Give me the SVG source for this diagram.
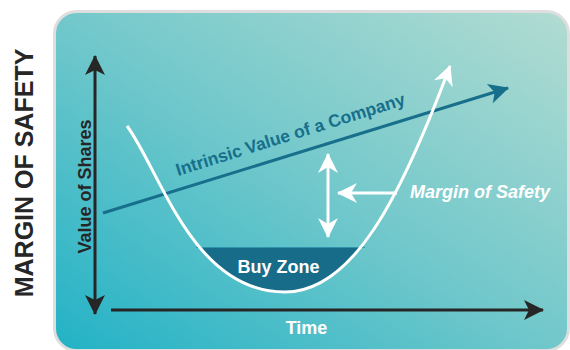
<svg xmlns="http://www.w3.org/2000/svg" width="570" height="350" viewBox="0 0 570 350">
<style>
.lbl{font-family:"Liberation Sans",Arial,sans-serif;font-weight:bold}
.ax{stroke:#262626;stroke-width:3;fill:none}
.wh{stroke:#fff;stroke-width:3;fill:none}
</style>
<defs>
<linearGradient id="bg" x1="0" y1="1" x2="1" y2="0">
<stop offset="0" stop-color="#22b2c6"/>
<stop offset="0.5" stop-color="#72c8cb"/>
<stop offset="1" stop-color="#b2dcd2"/>
</linearGradient>
<clipPath id="bz"><rect x="150" y="247" width="280" height="60"/></clipPath>
<marker id="ak" markerUnits="userSpaceOnUse" viewBox="-21 -11 23 22" refX="0" refY="0" markerWidth="23" markerHeight="22" orient="auto-start-reverse">
<path d="M1,0 L-19,-10 L-14,0 L-19,10 Z" fill="#262626"/>
</marker>
<marker id="aw" markerUnits="userSpaceOnUse" viewBox="-21 -11 23 22" refX="0" refY="0" markerWidth="23" markerHeight="22" orient="auto-start-reverse">
<path d="M1,0 L-19,-10 L-13,0 L-19,10 Z" fill="#fff"/>
</marker>
<marker id="at" markerUnits="userSpaceOnUse" viewBox="-21 -11 23 22" refX="0" refY="0" markerWidth="23" markerHeight="22" orient="auto">
<path d="M1,0 L-19,-10 L-14,0 L-19,10 Z" fill="#176f8c"/>
</marker>
</defs>
<text class="lbl" transform="translate(33,173) rotate(-90)" text-anchor="middle" font-size="25" fill="#262626">MARGIN OF SAFETY</text>
<g id="panel">
<rect x="54.5" y="11.5" width="514" height="339" rx="22" fill="url(#bg)" stroke="#dedede" stroke-width="3"/>
</g>
<g id="buy-zone">
<path d="M127,126 C160,170 192,292 285,292 C352,292 400,200 451,64 Z" fill="#176d89" clip-path="url(#bz)"/>
<line x1="196" y1="247.5" x2="365" y2="247.5" stroke="#3193ab" stroke-width="1"/>
<text class="lbl" x="278.5" y="273" text-anchor="middle" font-size="18" fill="#fff">Buy Zone</text>
</g>
<g id="connectors">
<line id="y-axis" class="ax" x1="95" y1="56" x2="95" y2="314" marker-start="url(#ak)" marker-end="url(#ak)"/>
<line id="x-axis" class="ax" x1="111" y1="310" x2="543" y2="310" marker-end="url(#ak)"/>
<line id="intrinsic" x1="103" y1="213" x2="508" y2="88" stroke="#176f8c" stroke-width="3" marker-end="url(#at)"/>
<path id="price" class="wh" d="M127,126 C160,170 192,292 285,292 C352,292 400,200 450,66" marker-end="url(#aw)"/>
<line id="margin-v" class="wh" x1="328" y1="154" x2="328" y2="237" marker-start="url(#aw)" marker-end="url(#aw)"/>
<line id="margin-h" class="wh" x1="397" y1="193" x2="338" y2="193" marker-end="url(#aw)"/>
</g>
<g id="labels">
<text class="lbl" transform="translate(91,186.5) rotate(-90)" text-anchor="middle" font-size="18" fill="#262626">Value of Shares</text>
<text class="lbl" transform="translate(178,176) rotate(-17.4)" font-size="17.5" fill="#176f8c">Intrinsic Value of a Company</text>
<text class="lbl" x="410" y="198" font-size="18" font-style="italic" fill="#fff">Margin of Safety</text>
<text class="lbl" x="306.5" y="334" text-anchor="middle" font-size="18" fill="#fff">Time</text>
</g>
</svg>
